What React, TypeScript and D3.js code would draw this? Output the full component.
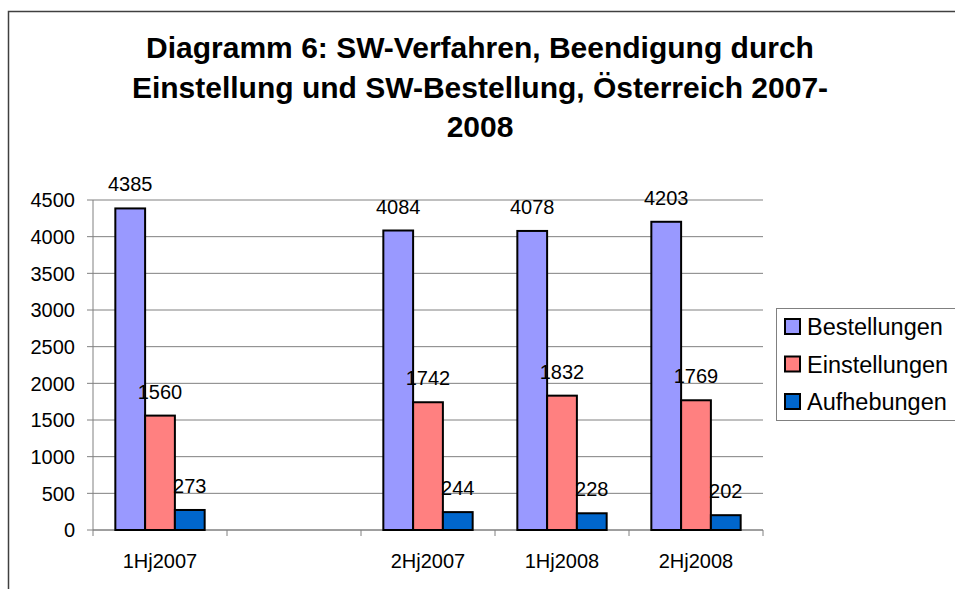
import React from 'react';
import * as d3 from 'd3';

const W = 955;
const H = 589;

const categories = ['1Hj2007', '', '2Hj2007', '1Hj2008', '2Hj2008'];
const seriesNames = ['Bestellungen', 'Einstellungen', 'Aufhebungen'];
const bestellungen = [4385, null, 4084, 4078, 4203];
const einstellungen = [1560, null, 1742, 1832, 1769];
const aufhebungen = [273, null, 244, 228, 202];
const seriesColors = ['#9999FF', '#FF8080', '#0066CC'];
const yTicks = [0, 500, 1000, 1500, 2000, 2500, 3000, 3500, 4000, 4500];
const titleLines = [
  'Diagramm 6: SW-Verfahren, Beendigung durch',
  'Einstellung und SW-Bestellung, Österreich 2007-',
  '2008',
];

const seriesValues = [bestellungen, einstellungen, aufhebungen];

const plot = { left: 93, right: 763, top: 200, bottom: 530 };
const font = 'Arial, "Liberation Sans", Helvetica, sans-serif';

export default function App() {
  const x = d3.scaleBand().domain(categories.map((c, i) => String(i)))
    .range([plot.left, plot.right]).paddingInner(0).paddingOuter(0);
  // Excel-style gap width of 150%
  const x1 = d3.scaleBand().domain(seriesNames)
    .range([0, x.bandwidth()]).paddingInner(0).paddingOuter(0.75);
  const y = d3.scaleLinear().domain([0, 4500]).range([plot.bottom, plot.top]);

  const boundaries = d3.range(categories.length + 1).map(i => plot.left + i * x.step());

  return (
    <svg width={W} height={H} style={{ position: 'absolute', left: 0, top: 0, background: '#fff' }}
      fontFamily={font}>
      <rect x={8.5} y={11.5} width={W + 20} height={H + 20} fill="#fff" stroke="#404040" strokeWidth={1.5} />

      {titleLines.map((t, i) => (
        <text key={i} x={480} y={58 + i * 39.5} textAnchor="middle" fontSize={30} fontWeight="bold" fill="#000">{t}</text>
      ))}

      {/* gridlines */}
      {yTicks.map(t => (
        <line key={'g' + t} x1={plot.left} x2={plot.right} y1={y(t)} y2={y(t)} stroke="#808080" strokeWidth={1} />
      ))}
      {/* y axis */}
      <line x1={plot.left} x2={plot.left} y1={plot.top} y2={plot.bottom} stroke="#808080" strokeWidth={1} />
      {yTicks.map(t => (
        <g key={'t' + t}>
          <line x1={plot.left - 6} x2={plot.left} y1={y(t)} y2={y(t)} stroke="#808080" />
          <text x={plot.left - 18} y={y(t)} dy="0.36em" textAnchor="end" fontSize={20} fill="#000">{t}</text>
        </g>
      ))}
      {/* x axis */}
      <line x1={plot.left} x2={plot.right} y1={plot.bottom} y2={plot.bottom} stroke="#808080" strokeWidth={1} />
      {boundaries.map((b, i) => (
        <line key={'xb' + i} x1={b} x2={b} y1={plot.bottom} y2={plot.bottom + 6} stroke="#808080" />
      ))}
      {categories.map((c, i) => (
        <text key={'c' + i} x={(x(String(i)) || 0) + x.bandwidth() / 2} y={568} textAnchor="middle" fontSize={20} fill="#000">{c}</text>
      ))}

      {/* bars */}
      {seriesValues.map((vals, s) => (
        <g key={'s' + s}>
          {vals.map((v, i) => v == null ? null : (
            <rect key={i}
              x={(x(String(i)) || 0) + (x1(seriesNames[s]) || 0)}
              y={y(v)}
              width={x1.bandwidth()}
              height={y(0) - y(v)}
              fill={seriesColors[s]} stroke="#000" strokeWidth={2} />
          ))}
        </g>
      ))}
      {/* value labels */}
      {seriesValues.map((vals, s) => (
        <g key={'l' + s}>
          {vals.map((v, i) => v == null ? null : (
            <text key={i}
              x={(x(String(i)) || 0) + (x1(seriesNames[s]) || 0) + x1.bandwidth() / 2}
              y={y(v) - 17} textAnchor="middle" fontSize={20} fill="#000">{v}</text>
          ))}
        </g>
      ))}

      {/* legend */}
      <rect x={776.5} y={308.5} width={200} height={112} fill="#fff" stroke="#808080" strokeWidth={1} />
      {seriesNames.map((n, i) => (
        <g key={'lg' + i} transform={`translate(785, ${327 + i * 37.5})`}>
          <rect x={0} y={-8} width={15} height={15} fill={seriesColors[i]} stroke="#000" strokeWidth={2} />
          <text x={22} y={0} dy="0.36em" fontSize={23.5} fill="#000">{n}</text>
        </g>
      ))}
    </svg>
  );
}
